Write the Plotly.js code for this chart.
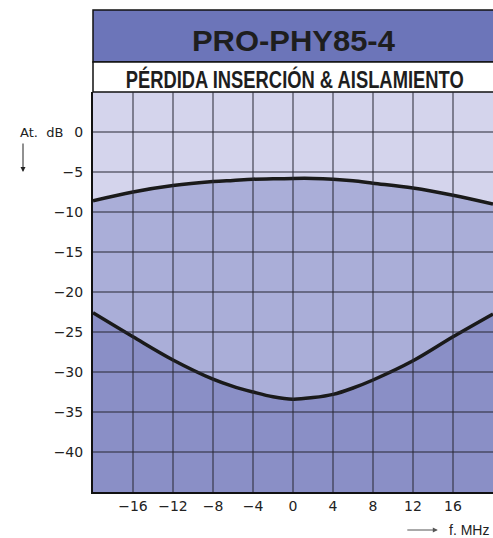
<!DOCTYPE html>
<html>
<head>
<meta charset="utf-8">
<script src="https://cdn.plot.ly/plotly-3.0.1.min.js"></script>
<style>html,body{margin:0;padding:0;background:#fff;}#chart{width:493px;height:538px;}</style>
</head>
<body>
<div id="chart"></div>
<script>
// Data
const freq = [-20, -16, -12, -8, -6, -4, -2, 0, 2, 4, 6, 8, 12, 16, 20];
const insertionLoss = [-8.6, -7.5, -6.7, -6.2, -6.05, -5.9, -5.85, -5.8, -5.8, -5.9, -6.1, -6.4, -7.0, -7.9, -9.0];
const isolation = [-22.6, -25.6, -28.5, -30.9, -31.8, -32.5, -33.1, -33.4, -33.2, -32.8, -32.0, -31.0, -28.6, -25.6, -22.75];
const xTicks = [-16, -12, -8, -4, 0, 4, 8, 12, 16];
const yTicks = [0, -5, -10, -15, -20, -25, -30, -35, -40];
const xRange = [-20, 20];
const yRange = [-45, 5];
const titleText = 'PRO-PHY85-4';
const subtitleText = 'PÉRDIDA INSERCIÓN & AISLAMIENTO';
const yLabel = 'At.  dB';
const xLabel = 'f. MHz';

const cLight = '#d4d4ec', cMid = '#aaaed8', cDark = '#8a8fc6', cHead = '#6c75b9';
const base = freq.map(() => yRange[0]);

const traces = [
  {x: freq, y: base, mode: 'lines', line: {width: 0}, hoverinfo: 'skip', showlegend: false},
  {x: freq, y: insertionLoss, mode: 'lines', fill: 'tonexty', fillcolor: cMid,
   line: {color: '#1a1a1a', width: 3.5, shape: 'spline', smoothing: 1}, showlegend: false},
  {x: freq, y: base, mode: 'lines', line: {width: 0}, hoverinfo: 'skip', showlegend: false},
  {x: freq, y: isolation, mode: 'lines', fill: 'tonexty', fillcolor: cDark,
   line: {color: '#1a1a1a', width: 3.5, shape: 'spline', smoothing: 1}, showlegend: false}
];

const shapes = [];
shapes.push({type: 'rect', xref: 'paper', yref: 'paper', x0: 0, x1: 1.01, y0: 1.075, y1: 1.205,
  fillcolor: cHead, line: {color: '#111', width: 1.5}, layer: 'above'});
shapes.push({type: 'rect', xref: 'paper', yref: 'paper', x0: 0, x1: 1.01, y0: 1.0, y1: 1.075,
  fillcolor: '#ffffff', line: {color: '#111', width: 1.5}, layer: 'above'});
yTicks.forEach(v => shapes.push({type: 'line', xref: 'paper', yref: 'y', x0: 0, x1: 1, y0: v, y1: v,
  line: {color: '#262633', width: 1}, layer: 'above'}));
xTicks.forEach(v => shapes.push({type: 'line', xref: 'x', yref: 'paper', x0: v, x1: v, y0: 0, y1: 1,
  line: {color: '#262633', width: 1}, layer: 'above'}));

const annotations = [
  {xref: 'paper', yref: 'paper', x: 0.5, y: 1.13, yanchor: 'middle', text: '<b>' + titleText + '</b>', showarrow: false,
   font: {family: 'Liberation Sans, Arial, sans-serif', size: 30, color: '#1e1e1e'}},
  {xref: 'paper', yref: 'paper', x: 0.5025, y: 1.031, yanchor: 'middle', text: '<b>' + subtitleText + '</b>', showarrow: false,
   font: {family: 'Liberation Sans, Arial, sans-serif', size: 23, color: '#1e1e1e'}},
  {xref: 'paper', yref: 'paper', x: -0.13, y: 0.9, yanchor: 'middle', text: yLabel, showarrow: false, xanchor: 'center',
   font: {family: 'DejaVu Sans, sans-serif', size: 13, color: '#222'}},
  {xref: 'paper', yref: 'paper', x: -0.175, y: 0.8, ax: 0, ay: -30, text: '', showarrow: true,
   arrowhead: 2, arrowsize: 1, arrowwidth: 1, arrowcolor: '#222'},
  {xref: 'paper', yref: 'paper', x: 0.862, y: -0.095, ax: -32, ay: 0, text: '', showarrow: true,
   arrowhead: 2, arrowsize: 1, arrowwidth: 1, arrowcolor: '#555'},
  {xref: 'paper', yref: 'paper', x: 0.995, y: -0.095, yanchor: 'middle', text: xLabel, showarrow: false, xanchor: 'right',
   font: {family: 'Liberation Sans, Arial, sans-serif', size: 14, color: '#222'}}
];

const tickFont = {family: 'DejaVu Sans, sans-serif', size: 14, color: '#222'};
const layout = {
  width: 493, height: 538,
  margin: {l: 93, r: 0, t: 92, b: 46, pad: 0},
  paper_bgcolor: '#ffffff', plot_bgcolor: cLight,
  showlegend: false,
  xaxis: {range: xRange, tickvals: xTicks, showgrid: false, zeroline: false,
    showline: true, linecolor: '#111', linewidth: 2, ticks: '', fixedrange: true, tickfont: tickFont},
  yaxis: {range: yRange, tickvals: yTicks, showgrid: false, zeroline: false,
    showline: true, linecolor: '#111', linewidth: 2, ticks: '', ticklabelstandoff: 5, fixedrange: true, tickfont: tickFont},
  shapes: shapes,
  annotations: annotations
};

Plotly.newPlot('chart', traces, layout, {displayModeBar: false, staticPlot: true}).then(gd => {
  // condense the header texts to the widths seen in the reference
  const fit = {};
  fit[titleText] = 203;
  fit[subtitleText] = 338;
  gd.querySelectorAll('text.annotation-text').forEach(t => {
    const w = fit[t.textContent];
    if (w) {
      t.setAttribute('textLength', w);
      t.setAttribute('lengthAdjust', 'spacingAndGlyphs');
    }
  });
});
</script>
</body>
</html>
